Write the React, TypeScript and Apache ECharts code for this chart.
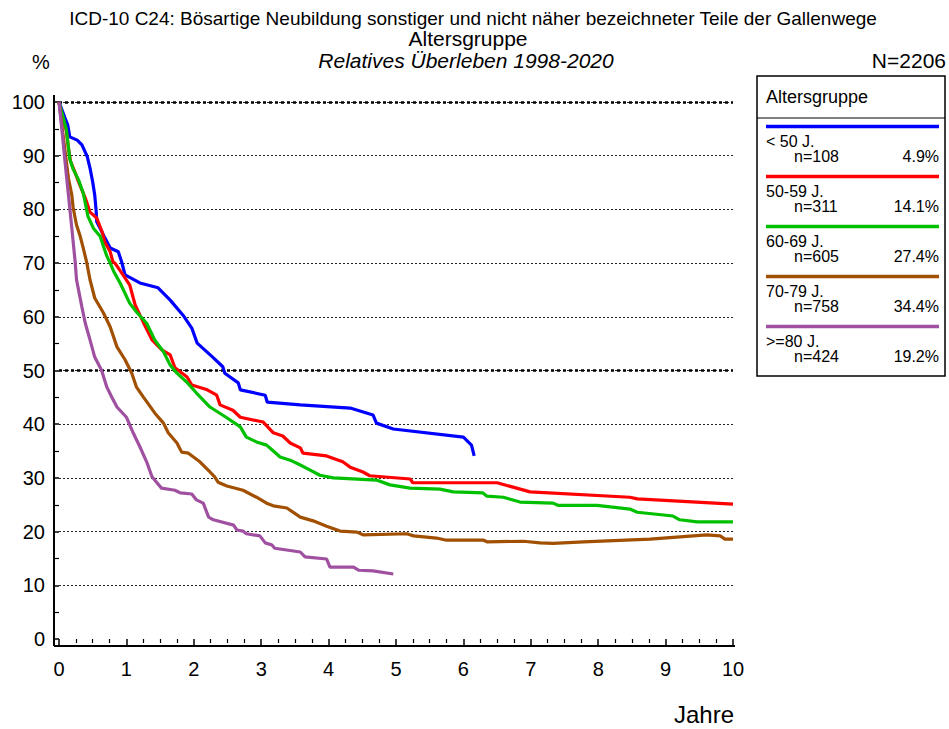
import React, { useEffect, useRef } from "react";
import * as echarts from "echarts";

// ---- Data (years, relative survival %) ----
const groupLabels = ["< 50 J.", "50-59 J.", "60-69 J.", "70-79 J.", ">=80 J."];
const groupN = ["n=108", "n=311", "n=605", "n=758", "n=424"];
const groupPct = ["4.9%", "14.1%", "27.4%", "34.4%", "19.2%"];

const under50 = [
  [0, 100], [0.09, 97.0], [0.13, 95.7], [0.16, 93.5], [0.27, 92.9], [0.34, 92.0],
  [0.42, 89.8], [0.46, 87.7], [0.5, 85.1], [0.53, 82.7], [0.55, 79.9], [0.56, 77.7],
  [0.61, 76.5], [0.68, 74.7], [0.76, 72.8], [0.88, 72.1], [0.93, 70.2], [0.98, 67.8],
  [1.2, 66.3], [1.47, 65.4], [1.65, 63.1], [1.84, 60.3], [1.97, 57.9], [2.05, 55.1],
  [2.28, 52.5], [2.43, 50.7], [2.46, 49.5], [2.66, 47.7], [2.69, 46.4], [3.06, 45.4],
  [3.09, 44.1], [3.58, 43.6], [4.32, 43.0], [4.66, 41.7], [4.71, 40.2], [4.96, 39.1],
  [6.0, 37.6], [6.12, 36.1], [6.16, 34.1],
];
const age50to59 = [
  [0, 100], [0.01, 99.3], [0.06, 97.0], [0.11, 94.6], [0.14, 91.4], [0.17, 89.0],
  [0.24, 86.8], [0.31, 84.5], [0.39, 82.1], [0.46, 79.5],
  [0.56, 78.4], [0.64, 75.8], [0.68, 73.9], [0.76, 72.1], [0.8, 70.2], [0.83, 70.0],
  [0.95, 67.8], [1.05, 65.9], [1.13, 62.2], [1.25, 59.0], [1.38, 55.7], [1.53, 53.8],
  [1.65, 52.9], [1.72, 50.5], [1.9, 48.8], [1.97, 47.3], [2.2, 46.4], [2.34, 45.4],
  [2.39, 43.6], [2.58, 42.6], [2.69, 41.3], [3.03, 40.4], [3.18, 38.4], [3.32, 37.8],
  [3.43, 36.5], [3.58, 35.6], [3.62, 34.6], [3.97, 34.1], [4.21, 33.0], [4.32, 32.0],
  [4.51, 31.1], [4.61, 30.4], [5.21, 29.8], [5.25, 29.1], [6.5, 29.1], [6.99, 27.4],
  [8.47, 26.4], [8.58, 26.1], [10.0, 25.1],
];
const age60to69 = [
  [0, 100], [0.01, 99.4], [0.06, 97.2], [0.11, 94.8], [0.14, 91.6], [0.16, 89.4],
  [0.21, 87.5], [0.29, 85.5], [0.36, 83.0], [0.39, 81.2], [0.43, 78.7], [0.51, 76.5],
  [0.61, 75.0], [0.66, 73.1], [0.71, 71.3], [0.76, 70.0], [0.81, 68.5], [0.91, 66.2],
  [1.05, 62.5], [1.15, 60.9], [1.3, 58.8], [1.42, 55.7], [1.55, 53.5], [1.65, 51.0],
  [1.75, 49.5], [1.89, 47.9], [2.04, 45.8], [2.24, 43.2], [2.49, 41.2], [2.69, 39.5],
  [2.78, 37.6], [2.93, 36.7], [3.08, 36.1], [3.18, 35.0], [3.28, 33.9], [3.43, 33.3],
  [3.58, 32.4], [3.72, 31.5], [3.87, 30.5], [4.07, 30.0], [4.71, 29.6], [4.91, 28.7],
  [5.21, 28.1], [5.65, 27.9], [5.85, 27.4], [6.29, 27.2], [6.35, 26.6], [6.59, 26.4],
  [6.84, 25.5], [7.33, 25.3], [7.4, 24.9], [7.98, 24.9], [8.18, 24.6], [8.47, 24.2],
  [8.58, 23.6], [9.11, 22.9], [9.21, 22.2], [9.47, 21.8], [10.0, 21.8],
];
const age70to79 = [
  [0, 100], [0.01, 99.1], [0.06, 93.9], [0.11, 88.8], [0.14, 85.8], [0.19, 82.7],
  [0.21, 80.3], [0.26, 77.1], [0.31, 75.2], [0.36, 72.8], [0.41, 70.2], [0.46, 66.9],
  [0.53, 63.5], [0.66, 60.7], [0.76, 58.1], [0.86, 54.4], [0.98, 52.0], [1.08, 49.5],
  [1.15, 46.9], [1.25, 45.1], [1.42, 42.1], [1.55, 40.2], [1.62, 38.4], [1.75, 36.5],
  [1.82, 34.8], [1.92, 34.6], [2.09, 33.0], [2.24, 31.1], [2.31, 30.2], [2.36, 29.2],
  [2.49, 28.5], [2.73, 27.7], [2.93, 26.4], [3.08, 25.3], [3.18, 24.8], [3.38, 24.4],
  [3.58, 22.7], [3.77, 22.0], [3.97, 21.0], [4.17, 20.1], [4.42, 19.9], [4.51, 19.4],
  [5.16, 19.6], [5.26, 19.2], [5.6, 18.8], [5.75, 18.4], [6.3, 18.4], [6.35, 18.1],
  [6.89, 18.2], [7.14, 17.9], [7.33, 17.8], [7.78, 18.1], [8.77, 18.6], [9.61, 19.4],
  [9.81, 19.2], [9.88, 18.6], [10.0, 18.6],
];
const age80plus = [
  [0, 100], [0.04, 95.2], [0.09, 88.8], [0.14, 82.7], [0.19, 76.5], [0.24, 70.2],
  [0.26, 66.9], [0.34, 61.8], [0.39, 58.8], [0.46, 55.7], [0.53, 52.5], [0.63, 50.1],
  [0.71, 46.9], [0.78, 45.1], [0.86, 43.2], [1.0, 41.3], [1.1, 38.4], [1.2, 35.8],
  [1.3, 33.0], [1.38, 30.2], [1.52, 28.1], [1.72, 27.7], [1.8, 27.2], [1.97, 27.0],
  [2.04, 25.9], [2.14, 25.3], [2.22, 22.7], [2.29, 22.2], [2.59, 21.2], [2.64, 20.3],
  [2.73, 20.1], [2.78, 19.6], [2.98, 19.2], [3.06, 17.9], [3.16, 17.5], [3.2, 16.9],
  [3.58, 16.2], [3.65, 15.3], [3.97, 14.9], [4.02, 13.4], [4.37, 13.4], [4.45, 12.8],
  [4.66, 12.7], [4.96, 12.1],
];

const seriesData = [under50, age50to59, age60to69, age70to79, age80plus];
const colors = ["#0000ff", "#ff0000", "#00c000", "#a05000", "#a050a0"];

const FONT = "'Liberation Sans', Arial, sans-serif";

export default function App() {
  const ref = useRef<HTMLDivElement>(null);

  useEffect(() => {
    if (!ref.current) return;
    const chart = echarts.init(ref.current, undefined, { renderer: "svg" });

    const legendEls: any[] = [
      {
        type: "rect",
        shape: { x: 757, y: 76, width: 188, height: 300 },
        style: { fill: "#fff", stroke: "#000", lineWidth: 1.5 },
      },
      {
        type: "text",
        x: 766,
        y: 97,
        style: { text: "Altersgruppe", font: `18px ${FONT}`, fill: "#000", textVerticalAlign: "middle" },
      },
      {
        type: "line",
        shape: { x1: 757, y1: 118, x2: 945, y2: 118 },
        style: { stroke: "#000", lineWidth: 1 },
      },
    ];
    groupLabels.forEach((lab, i) => {
      const y0 = 126.5 + 50 * i;
      legendEls.push(
        {
          type: "line",
          shape: { x1: 766, y1: y0, x2: 939, y2: y0 },
          style: { stroke: colors[i], lineWidth: 3.5 },
        },
        {
          type: "text",
          x: 766,
          y: y0 + 14.5,
          style: { text: lab, font: `16px ${FONT}`, fill: "#000", textVerticalAlign: "middle" },
        },
        {
          type: "text",
          x: 794,
          y: y0 + 29.5,
          style: { text: groupN[i], font: `16px ${FONT}`, fill: "#000", textVerticalAlign: "middle" },
        },
        {
          type: "text",
          x: 939,
          y: y0 + 29.5,
          style: {
            text: groupPct[i],
            font: `16px ${FONT}`,
            fill: "#000",
            textAlign: "right",
            textVerticalAlign: "middle",
          },
        }
      );
    });

    const option: any = {
      animation: false,
      backgroundColor: "#fff",
      grid: { left: 59, right: 216, top: 102, bottom: 90 },
      xAxis: {
        type: "value",
        min: 0,
        max: 10,
        interval: 1,
        offset: 7,
        axisLine: { show: false },
        axisTick: { show: true, length: 6, lineStyle: { color: "#000", width: 1.5 } },
        minorTick: { show: true, splitNumber: 4, length: 4, lineStyle: { color: "#000", width: 1.2 } },
        axisLabel: { color: "#000", fontSize: 20, fontFamily: FONT, margin: 13 },
        splitLine: { show: false },
      },
      yAxis: {
        type: "value",
        min: 0,
        max: 100,
        interval: 10,
        offset: 5,
        axisLine: { show: false },
        axisTick: { show: true, length: 6, lineStyle: { color: "#000", width: 1.5 } },
        minorTick: { show: true, splitNumber: 2, length: 6, lineStyle: { color: "#000", width: 1.2 } },
        axisLabel: { color: "#000", fontSize: 20, fontFamily: FONT, margin: 9 },
        splitLine: {
          show: true,
          showMinLine: false,
          lineStyle: { color: "#222", width: 1, type: [2, 2] },
        },
      },
      series: seriesData.map((d, i) => ({
        type: "line",
        data: d,
        showSymbol: false,
        symbol: "none",
        smooth: false,
        lineStyle: { color: colors[i], width: 3.2 },
        itemStyle: { color: colors[i] },
        z: 3 + i,
        silent: true,
        markLine:
          i === 0
            ? {
                silent: true,
                symbol: "none",
                label: { show: false },
                lineStyle: { color: "#000", width: 2.5, type: [3, 3] },
                data: [{ yAxis: 50 }, { yAxis: 100 }],
                z: 1,
              }
            : undefined,
      })),
      graphic: [
        {
          type: "line",
          shape: { x1: 54, y1: 95, x2: 54, y2: 646 },
          style: { stroke: "#000", lineWidth: 2 },
        },
        {
          type: "line",
          shape: { x1: 54, y1: 646, x2: 735, y2: 646 },
          style: { stroke: "#000", lineWidth: 2 },
        },
        {
          type: "text",
          x: 473,
          y: 18,
          style: {
            text: "ICD-10 C24: Bösartige Neubildung sonstiger und nicht näher bezeichneter Teile der Gallenwege",
            font: `19px ${FONT}`,
            fill: "#000",
            textAlign: "center",
            textVerticalAlign: "middle",
          },
        },
        {
          type: "text",
          x: 468,
          y: 38,
          style: {
            text: "Altersgruppe",
            font: `21px ${FONT}`,
            fill: "#000",
            textAlign: "center",
            textVerticalAlign: "middle",
          },
        },
        {
          type: "text",
          x: 466,
          y: 60,
          style: {
            text: "Relatives Überleben 1998-2020",
            font: `italic 21px ${FONT}`,
            fill: "#000",
            textAlign: "center",
            textVerticalAlign: "middle",
          },
        },
        {
          type: "text",
          x: 946,
          y: 60,
          style: {
            text: "N=2206",
            font: `21px ${FONT}`,
            fill: "#000",
            textAlign: "right",
            textVerticalAlign: "middle",
          },
        },
        {
          type: "text",
          x: 41,
          y: 62,
          style: {
            text: "%",
            font: `20px ${FONT}`,
            fill: "#000",
            textAlign: "center",
            textVerticalAlign: "middle",
          },
        },
        {
          type: "text",
          x: 734,
          y: 714,
          style: {
            text: "Jahre",
            font: `24px ${FONT}`,
            fill: "#000",
            textAlign: "right",
            textVerticalAlign: "middle",
          },
        },
        ...legendEls,
      ],
    };

    chart.setOption(option);
    return () => chart.dispose();
  }, []);

  return (
    <div
      ref={ref}
      style={{ position: "fixed", left: 0, top: 0, width: 949, height: 729, background: "#fff" }}
    />
  );
}
